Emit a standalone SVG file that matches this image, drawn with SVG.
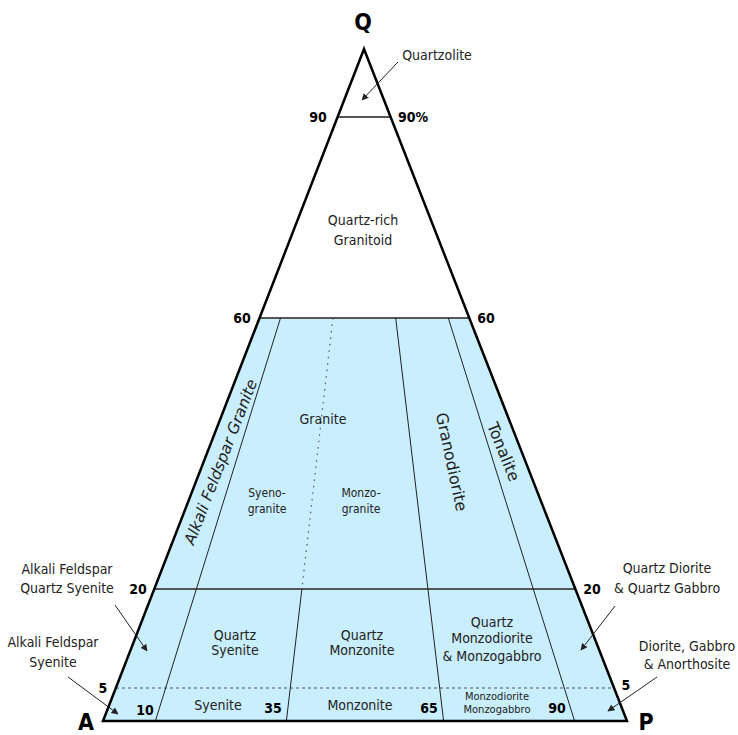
<svg xmlns="http://www.w3.org/2000/svg" width="738" height="735" viewBox="0 0 738 735">
<defs>
<style>
text{font-family:"DejaVu Sans Condensed","DejaVu Sans",sans-serif;font-stretch:condensed;fill:#222;text-anchor:middle}
.b{font-weight:bold;fill:#000}
.lbl{font-size:14px}
.rot{font-family:"DejaVu Sans",sans-serif;font-stretch:normal}
.num{font-size:14px}
.big{font-size:23px}
.thin{stroke:#222;stroke-width:1;fill:none}
.dot{stroke:#555;stroke-width:1.2;fill:none}
.grey{stroke:#555;stroke-width:2;fill:none}
.arr{stroke:#222;stroke-width:1;fill:none;marker-end:url(#ah)}
</style>
<marker id="ah" viewBox="0 0 10 10" refX="9" refY="5" markerWidth="7" markerHeight="7" orient="auto" markerUnits="userSpaceOnUse">
<path d="M0,0 L10,5 L0,10 z" fill="#222"/>
</marker>
</defs>
<rect width="738" height="735" fill="#fff"/>
<g id="fill">
<polygon points="259.5,318 469.3,318 627,721 103,721" fill="#c9eefd"/>
</g>
<g id="connectors">
<line class="grey" x1="337" y1="117" x2="390" y2="117"/>
<line class="grey" x1="259.5" y1="318" x2="469.3" y2="318"/>
<line class="grey" x1="155" y1="589" x2="575" y2="589"/>
<line class="dot" x1="116" y1="688" x2="614" y2="688" stroke-dasharray="3,3"/>
<line class="thin" x1="280.5" y1="318" x2="155.4" y2="721"/>
<line class="dot" x1="332.9" y1="318" x2="301.9" y2="589" stroke-dasharray="1.5,5"/>
<line class="thin" x1="301.9" y1="589" x2="286.4" y2="721"/>
<line class="thin" x1="395.7" y1="318" x2="443.6" y2="721"/>
<line class="thin" x1="448.3" y1="318" x2="574.6" y2="721"/>
<polygon points="364,49 627,721 103,721" fill="none" stroke="#000" stroke-width="2.5" stroke-linejoin="miter"/>
<line class="arr" x1="398" y1="62" x2="362" y2="100"/>
<line class="arr" x1="115" y1="605" x2="147" y2="651"/>
<line class="arr" x1="68" y1="677" x2="118" y2="714"/>
<line class="arr" x1="615" y1="606" x2="581" y2="650"/>
<line class="arr" x1="657" y1="677" x2="608" y2="711"/>
</g>
<g id="vertices">
<text class="b big" x="363" y="30">Q</text>
<text class="b big" x="86" y="730">A</text>
<text class="b big" x="646" y="730">P</text>
</g>
<g id="numbers">
<text class="b num" x="318" y="122">90</text>
<text class="b num" x="413" y="122">90%</text>
<text class="b num" x="242" y="323">60</text>
<text class="b num" x="486" y="323">60</text>
<text class="b num" x="138" y="594">20</text>
<text class="b num" x="592" y="594">20</text>
<text class="b num" x="103" y="693">5</text>
<text class="b num" x="626" y="690">5</text>
<text class="b num" x="145" y="715">10</text>
<text class="b num" x="273" y="713">35</text>
<text class="b num" x="429" y="713">65</text>
<text class="b num" x="557" y="713">90</text>
</g>
<g id="quartzolite"><text class="lbl" x="437" y="60">Quartzolite</text></g>
<g id="quartz-rich"><text class="lbl" x="363" y="225">Quartz-rich</text><text class="lbl" x="363" y="245">Granitoid</text></g>
<g id="alkali-feldspar-granite"><text class="rot" transform="translate(221,462) rotate(-68.8)" y="5" font-size="15.5" font-style="italic">Alkali Feldspar Granite</text></g>
<g id="granite"><text class="lbl" x="323" y="424" font-size="15">Granite</text></g>
<g id="syenogranite"><text x="267" y="497" font-size="12">Syeno-</text><text x="267" y="513" font-size="12">granite</text></g>
<g id="monzogranite"><text x="361" y="497" font-size="12">Monzo-</text><text x="361" y="513" font-size="12">granite</text></g>
<g id="granodiorite"><text class="rot" transform="translate(451,462) rotate(78)" y="5" font-size="16">Granodiorite</text></g>
<g id="tonalite"><text class="rot" transform="translate(503,452) rotate(68)" y="5" font-size="16">Tonalite</text></g>
<g id="quartz-syenite"><text class="lbl" x="235" y="640" font-size="15">Quartz</text><text class="lbl" x="235" y="655" font-size="15">Syenite</text></g>
<g id="quartz-monzonite"><text class="lbl" x="362" y="640" font-size="15">Quartz</text><text class="lbl" x="362" y="655" font-size="15">Monzonite</text></g>
<g id="quartz-monzodiorite"><text class="lbl" x="492" y="627">Quartz</text><text class="lbl" x="492" y="643">Monzodiorite</text><text class="lbl" x="492" y="661">&amp; Monzogabbro</text></g>
<g id="syenite"><text class="lbl" x="218" y="710">Syenite</text></g>
<g id="monzonite"><text class="lbl" x="360" y="710">Monzonite</text></g>
<g id="monzodiorite"><text x="497" y="700" font-size="11">Monzodiorite</text><text x="497" y="713" font-size="11">Monzogabbro</text></g>
<g id="afqs"><text class="lbl" x="67" y="574">Alkali Feldspar</text><text class="lbl" x="67" y="593">Quartz Syenite</text></g>
<g id="afs"><text class="lbl" x="53" y="647">Alkali Feldspar</text><text class="lbl" x="53" y="667">Syenite</text></g>
<g id="qdiorite"><text class="lbl" x="667" y="573">Quartz Diorite</text><text class="lbl" x="667" y="593">&amp; Quartz Gabbro</text></g>
<g id="diorite"><text class="lbl" x="687" y="651">Diorite, Gabbro</text><text class="lbl" x="687" y="669">&amp; Anorthosite</text></g>
</svg>
